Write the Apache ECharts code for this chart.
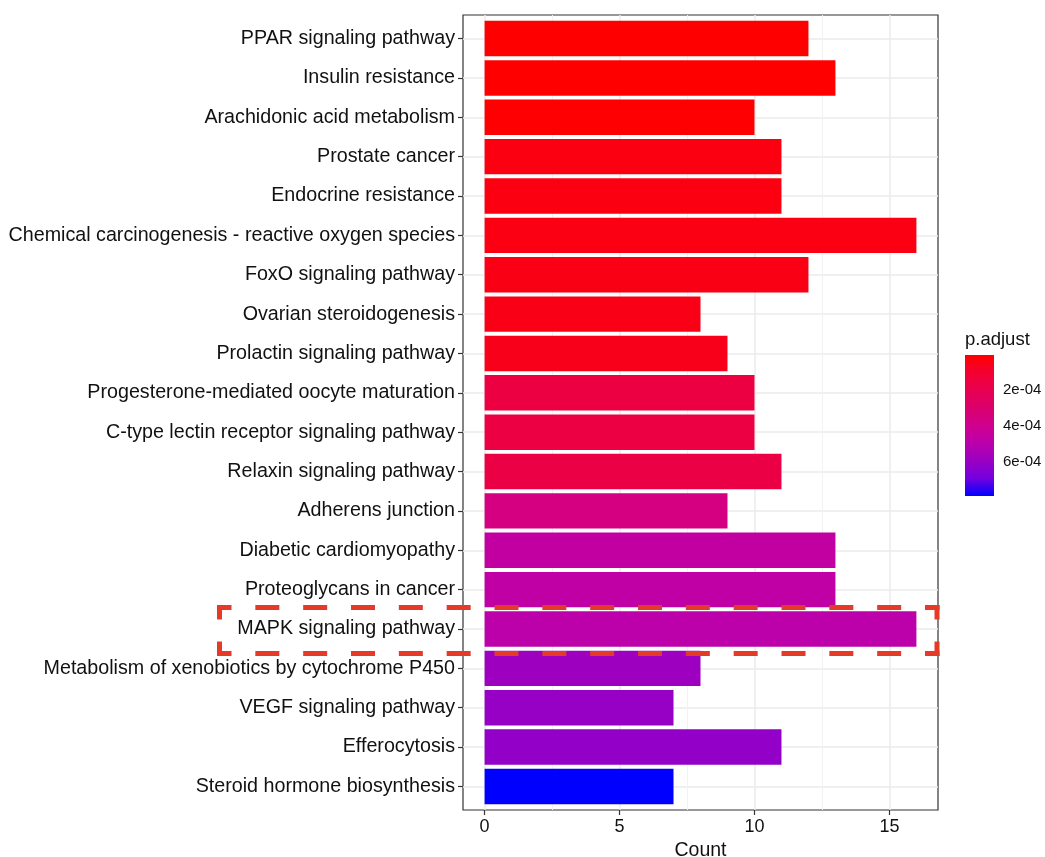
<!DOCTYPE html>
<html><head><meta charset="utf-8">
<script src="https://cdn.jsdelivr.net/npm/echarts@6/dist/echarts.min.js"></script>
<style>html,body{margin:0;padding:0;background:#fff}#c{width:1045px;height:857px}</style>
</head><body><div id="c"></div>
<script>
const categories = [
  'PPAR signaling pathway','Insulin resistance','Arachidonic acid metabolism','Prostate cancer',
  'Endocrine resistance','Chemical carcinogenesis - reactive oxygen species','FoxO signaling pathway',
  'Ovarian steroidogenesis','Prolactin signaling pathway','Progesterone-mediated oocyte maturation',
  'C-type lectin receptor signaling pathway','Relaxin signaling pathway','Adherens junction',
  'Diabetic cardiomyopathy','Proteoglycans in cancer','MAPK signaling pathway',
  'Metabolism of xenobiotics by cytochrome P450','VEGF signaling pathway','Efferocytosis',
  'Steroid hormone biosynthesis'
];
const counts = [12,13,10,11,11,16,12,8,9,10,10,11,9,13,13,16,8,7,11,7];
const pAdjust = [3e-6,4e-6,8e-6,3.6e-5,3.8e-5,4.2e-5,4.6e-5,5.0e-5,5.5e-5,1.55e-4,1.6e-4,1.65e-4,3.6e-4,4.6e-4,4.7e-4,4.9e-4,5.8e-4,6.0e-4,6.1e-4,7.9e-4];
const xTicks = [0,5,10,15];
const xMinorTicks = [2.5,7.5,12.5];
const legendTicks = [2e-4,4e-4,6e-4];
const gradientColors = ['#FF0000','#F40031','#E80050','#DA006C','#D0008E','#BB00AB','#9A00C3','#7300E0','#0000FF'];
const highlight = 'MAPK signaling pathway';

const pMin = Math.min(...pAdjust), pMax = Math.max(...pAdjust);
const xMin = -0.8, xMax = 16.8;
const FONT = '"Liberation Sans", Arial, sans-serif';
const TXT = '#111';
const barData = categories.map((c, i) => [counts[i], c, pAdjust[i]]);

function fmtExp(v) {
  const parts = Number(v).toExponential(0).split('e');
  const e = parseInt(parts[1], 10);
  return parts[0] + 'e' + (e < 0 ? '-' : '+') + String(Math.abs(e)).padStart(2, '0');
}

const chart = echarts.init(document.getElementById('c'), null, {renderer: 'canvas'});
const legendStops = gradientColors.map((c, i) => ({offset: i / (gradientColors.length - 1), color: c}));

const option = {
  animation: false,
  backgroundColor: '#fff',
  title: {text: 'p.adjust', left: 965, top: 330, padding: 0,
    textStyle: {fontFamily: FONT, fontSize: 18.5, fontWeight: 'normal', color: TXT}},
  grid: [
    {left: 463, top: 15, width: 475, height: 795, show: true, borderColor: '#333', borderWidth: 1.2,
      backgroundColor: '#fff', outerBoundsMode: 'none', containLabel: false},
    {left: 463, top: 18.9, width: 475, height: 787.2, outerBoundsMode: 'none', containLabel: false},
    {left: 965, top: 355, width: 29, height: 141, outerBoundsMode: 'none', containLabel: false}
  ],
  xAxis: [
    {gridIndex: 0, type: 'value', min: xMin, max: xMax,
      axisLine: {show: false, onZero: false},
      axisTick: {show: true, customValues: xTicks, length: 5, lineStyle: {color: '#333', width: 1.2}},
      axisLabel: {customValues: xTicks, margin: 8, fontFamily: FONT, fontSize: 18, color: TXT},
      splitLine: {show: true, lineStyle: {color: '#EBEBEB', width: 1.5}},
      name: 'Count', nameLocation: 'middle', nameGap: 29,
      nameTextStyle: {fontFamily: FONT, fontSize: 19.5, color: TXT}},
    {gridIndex: 0, type: 'value', min: xMin, max: xMax,
      axisLine: {show: false, onZero: false},
      axisTick: {show: false, customValues: xMinorTicks},
      axisLabel: {show: false, customValues: xMinorTicks},
      splitLine: {show: true, lineStyle: {color: '#F2F2F2', width: 1}}},
    {gridIndex: 1, type: 'value', min: xMin, max: xMax, show: false, axisLine: {onZero: false}},
    {gridIndex: 2, type: 'category', data: ['bar'], show: false, axisLine: {onZero: false}}
  ],
  yAxis: [
    {gridIndex: 1, type: 'category', data: categories, inverse: true,
      axisLine: {show: false, onZero: false},
      axisTick: {show: true, alignWithLabel: true, length: 5, lineStyle: {color: '#333', width: 1.2}},
      axisLabel: {margin: 8, fontFamily: FONT, fontSize: 19.7, color: TXT},
      splitLine: {show: true, alignWithLabel: true, lineStyle: {color: '#EBEBEB', width: 1.5}}},
    {gridIndex: 2, type: 'value', min: pMin, max: pMax, inverse: true, position: 'right',
      axisLine: {show: false, onZero: false},
      axisTick: {show: true, inside: true, length: 6, customValues: legendTicks, lineStyle: {color: '#fff', width: 1.2}},
      axisLabel: {customValues: legendTicks, formatter: fmtExp, margin: 9, fontFamily: FONT, fontSize: 15, color: TXT},
      splitLine: {show: false}},
    {gridIndex: 2, type: 'value', min: pMin, max: pMax, inverse: true, position: 'left',
      axisLine: {show: false, onZero: false},
      axisTick: {show: true, inside: true, length: 6, customValues: legendTicks, lineStyle: {color: '#fff', width: 1.2}},
      axisLabel: {show: false, customValues: legendTicks},
      splitLine: {show: false}},
    {gridIndex: 0, type: 'value', min: 0, max: 1, show: false, axisLine: {onZero: false}}
  ],
  visualMap: {show: false, type: 'continuous', min: pMin, max: pMax, dimension: 2, seriesIndex: 0,
    inRange: {color: gradientColors}},
  series: [
    {type: 'bar', xAxisIndex: 2, yAxisIndex: 0, data: barData, encode: {x: 0, y: 1}, barWidth: '90%', z: 3},
    {type: 'bar', xAxisIndex: 3, yAxisIndex: 1, data: [pMax], barWidth: '100%', silent: true, z: 1,
      itemStyle: {color: new echarts.graphic.LinearGradient(0, 0, 0, 1, legendStops)}}
  ]
};
chart.setOption(option);

// Dashed highlight box around the MAPK row (annotation)
const cy = chart.convertToPixel({yAxisIndex: 0}, highlight);
const xr = chart.convertToPixel({xAxisIndex: 0}, xMax) - 1;
const xl = 219.5;
const yt = cy - 21.5, yb = cy + 24.5;
const LW = 5, DASH = 24, HALF = LW / 2;
const RED = '#E63A29';
function edge(x1, y1, x2, y2, n) {
  const len = Math.hypot(x2 - x1, y2 - y1);
  const period = len / n;
  const dx = (x2 - x1) / len, dy = (y2 - y1) / len;
  return {type: 'line', z: 100, silent: true,
    shape: {x1: x1 - dx * HALF, y1: y1 - dy * HALF, x2: x2 + dx * HALF, y2: y2 + dy * HALF},
    style: {stroke: RED, lineWidth: LW, lineCap: 'butt',
      lineDash: [DASH, period - DASH], lineDashOffset: DASH / 2 - HALF}};
}
const nH = Math.round((xr - xl) / 48);
chart.setOption({
  graphic: [
    edge(xl, yt, xr, yt, nH),
    edge(xl, yb, xr, yb, nH),
    edge(xl, yt, xl, yb, 1),
    edge(xr, yt, xr, yb, 1)
  ]
});
</script></body></html>
